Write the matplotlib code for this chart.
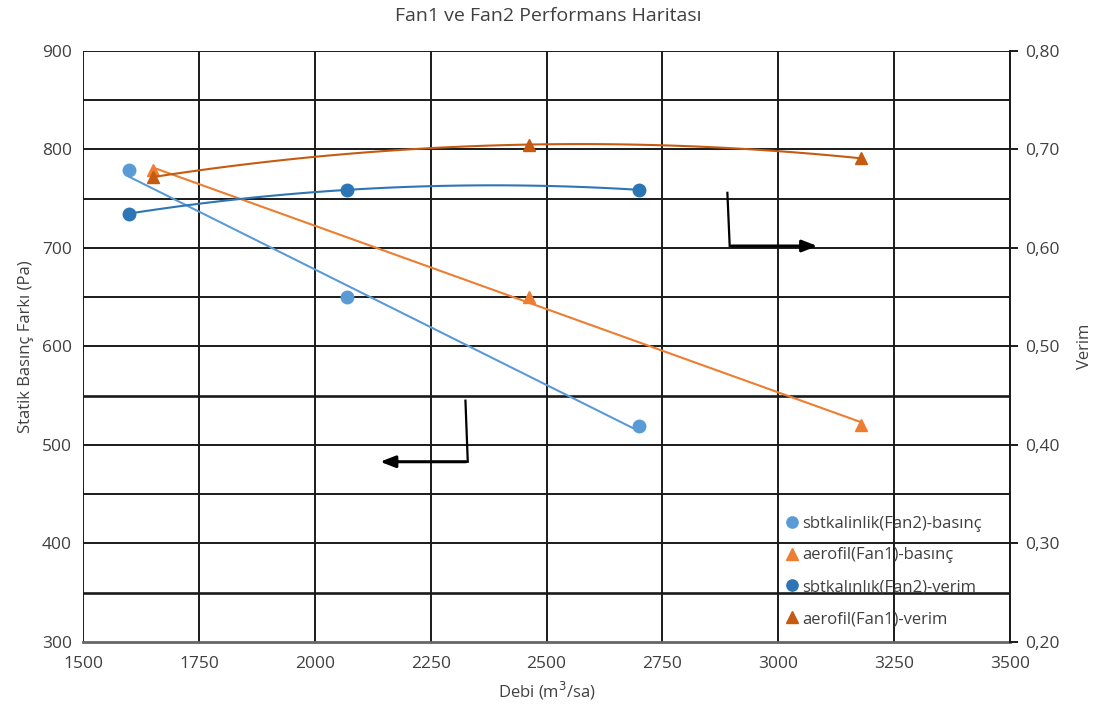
import numpy as np
import matplotlib
matplotlib.use("Agg")
import matplotlib.pyplot as plt

plt.rcParams['font.family'] = ['Open Sans', 'DejaVu Sans']

# Fan2 (sabit kalinlik)
fan2_debi = [1600, 2070, 2700]
fan2_basinc = [779, 650, 519]
fan2_verim = [0.635, 0.659, 0.659]

# Fan1 (aerofil)
fan1_debi = [1651, 2463, 3179]
fan1_basinc = [779, 650, 520]
fan1_verim = [0.672, 0.705, 0.691]

c_fan2_p = '#5B9BD5'
c_fan1_p = '#ED7D31'
c_fan2_v = '#2E75B6'
c_fan1_v = '#C55A11'

fig = plt.figure(figsize=(10.96, 7.17), dpi=100)
ax = fig.add_axes([0.0757, 0.1046, 0.846, 0.8243])
ax2 = ax.twinx()

ax.set_xlim(1500, 3500)
ax.set_ylim(300, 900)
ax2.set_ylim(0.2, 0.8)

# grid
for xv in np.arange(1500, 3501, 250):
    ax.axvline(xv, color='#1a1a1a', lw=1.4, zorder=1)
for yv in np.arange(350, 901, 50):
    lw = 1.9 if yv in (350, 550) else 1.4
    ax.axhline(yv, color='#1a1a1a', lw=lw, zorder=1)

for s in ['top', 'left']:
    ax.spines[s].set_visible(False)
    ax2.spines[s].set_visible(False)
ax.spines['right'].set_visible(False)
ax2.spines['right'].set_color('#1a1a1a')
ax2.spines['right'].set_linewidth(1.4)
ax.spines['bottom'].set_color('#666666')
ax.spines['bottom'].set_linewidth(2.0)
ax2.spines['bottom'].set_visible(False)

ax.set_xticks(np.arange(1500, 3501, 250))
ax.set_yticks(np.arange(300, 901, 100))
ax2.set_yticks(np.arange(0.2, 0.81, 0.1))
ax2.set_yticklabels([('%.2f' % v).replace('.', ',') for v in np.arange(0.2, 0.81, 0.1)])
ax.tick_params(axis='x', length=0, pad=10, labelsize=12.5, labelcolor='#404040')
ax.tick_params(axis='y', length=0, pad=8, labelsize=12.5, labelcolor='#404040')
ax2.tick_params(axis='y', length=6, width=1.4, color='#1a1a1a', pad=5, labelsize=12.5, labelcolor='#404040')

# trend lines
xs = np.linspace(fan2_debi[0], fan2_debi[-1], 100)
ax.plot(xs, np.polyval(np.polyfit(fan2_debi, fan2_basinc, 1), xs), color=c_fan2_p, lw=1.5, zorder=3)
xs1 = np.linspace(fan1_debi[0], fan1_debi[-1], 100)
ax.plot(xs1, np.polyval(np.polyfit(fan1_debi, fan1_basinc, 1), xs1), color=c_fan1_p, lw=1.5, zorder=3)
ax2.plot(xs, np.polyval(np.polyfit(fan2_debi, fan2_verim, 2), xs), color=c_fan2_v, lw=1.5, zorder=3)
ax2.plot(xs1, np.polyval(np.polyfit(fan1_debi, fan1_verim, 2), xs1), color=c_fan1_v, lw=1.5, zorder=3)

h1, = ax.plot(fan2_debi, fan2_basinc, 'o', color=c_fan2_p, ms=9, ls='none', zorder=4,
              label='sbtkalinlik(Fan2)-basınç')
h2, = ax.plot(fan1_debi, fan1_basinc, '^', color=c_fan1_p, ms=9, ls='none', zorder=4,
              label='aerofil(Fan1)-basınç')
h3, = ax2.plot(fan2_debi, fan2_verim, 'o', color=c_fan2_v, ms=9, ls='none', zorder=4,
               label='sbtkalınlık(Fan2)-verim')
h4, = ax2.plot(fan1_debi, fan1_verim, '^', color=c_fan1_v, ms=9, ls='none', zorder=4,
               label='aerofil(Fan1)-verim')

# arrows
ax.plot([2890, 2895], [756, 702], color='black', lw=1.6, zorder=5)
ax.annotate('', xy=(3090, 702), xytext=(2893, 702),
            arrowprops=dict(arrowstyle='-|>,head_length=0.9,head_width=0.35', color='black', lw=2.2),
            zorder=5)
ax.plot([2325, 2330], [545, 483], color='black', lw=1.6, zorder=5)
ax.annotate('', xy=(2135, 483), xytext=(2332, 483),
            arrowprops=dict(arrowstyle='-|>,head_length=0.9,head_width=0.35', color='black', lw=2.2),
            zorder=5)

leg = ax2.legend(handles=[h1, h2, h3, h4], loc='lower left', bbox_to_anchor=(0.74, 0.0),
                 frameon=False, fontsize=12, labelspacing=0.95, handletextpad=0.1,
                 handlelength=1.0, markerscale=0.9, labelcolor='#404040')

fig.suptitle('Fan1 ve Fan2 Performans Haritası', y=0.99, fontsize=14, color='#404040')
ax.set_xlabel('Debi (m$^3$/sa)', fontsize=12, color='#404040', labelpad=6)
ax.set_ylabel('Statik Basınç Farkı (Pa)', fontsize=12, color='#404040', labelpad=6)
ax2.set_ylabel('Verim', fontsize=12, color='#404040', rotation=90, labelpad=12)

fig.savefig('out.png', dpi=100)
